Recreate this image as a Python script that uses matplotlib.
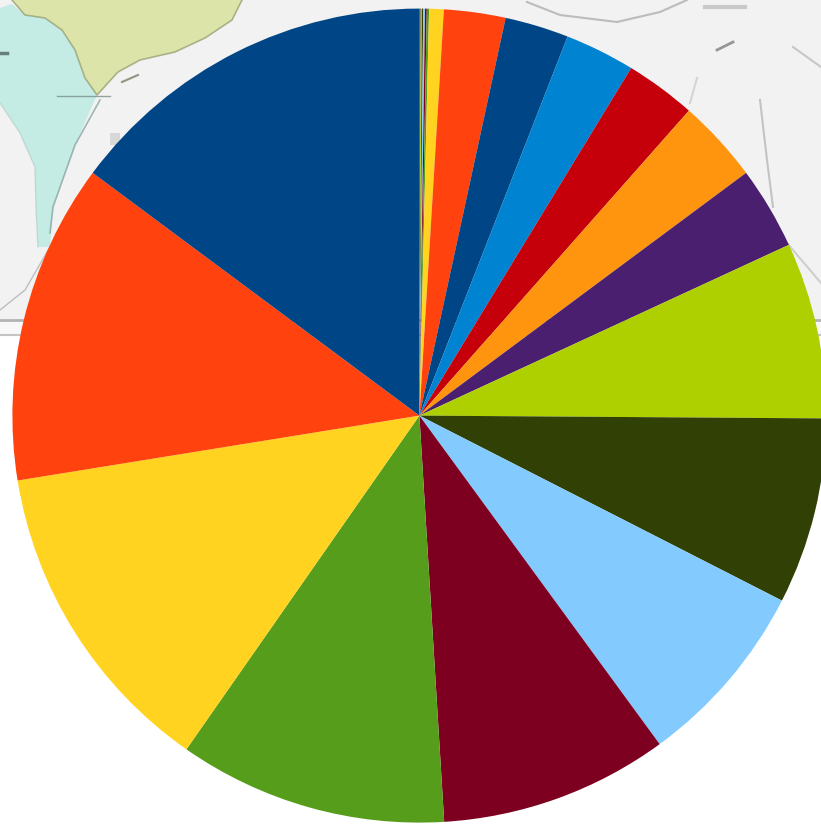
import matplotlib
matplotlib.use("Agg")
import matplotlib.pyplot as plt
from matplotlib.patches import Polygon, Rectangle

#
#Pie values in percent, clockwise from the top
#
values = [0.05, 0.05, 0.05, 0.07, 0.07, 0.09, 0.58, 2.44, 2.53, 2.78, 2.81,
          3.31, 3.28, 7.00, 7.40, 7.44, 9.08, 10.67, 12.75, 12.72, 14.83]
colors = ["#4b1f6f", "#aecf00", "#314004", "#83caff", "#7e0021", "#579d1c",
          "#ffd320", "#ff420e", "#004586", "#0084d1", "#c5000b", "#ff950e",
          "#4b1f6f", "#aecf00", "#314004", "#83caff", "#7e0021", "#579d1c",
          "#ffd320", "#ff420e", "#004586"]

W = 821
H = 824
CX = 419.4
CY = 415.6
R = 407

#
#The faded map behind the pie, outlines in image pixels (y downwards)
#
land = [(12, 0), (25, 15), (45, 18), (62, 30), (75, 50), (85, 78), (97, 95), (118, 72),
        (140, 60), (175, 52), (205, 38), (232, 20), (242, 0)]
water = [(0, 8), (12, 4), (25, 15), (45, 18), (62, 30), (75, 50), (85, 78), (97, 95),
         (75, 145), (53, 207), (50, 247), (38, 247), (36, 207), (35, 167), (20, 133), (0, 103)]
map_lines = [
    ([(12, 0), (25, 15), (45, 18), (62, 30), (75, 50), (85, 78), (97, 95), (118, 72),
      (140, 60), (175, 52), (205, 38), (232, 20), (242, 0)], "#8f9a6a", 1.2),
    ([(100, 100), (75, 145), (53, 207), (50, 233)], "#7d9c98", 1.2),
    ([(0, 103), (20, 133), (35, 167), (36, 207), (38, 247)], "#b5cfcb", 1.0),
    ([(57, 96), (110, 96)], "#6f8080", 1.0),
    ([(0, 310), (25, 290), (50, 247)], "#a8a8a8", 1.0),
    ([(122, 82), (138, 75)], "#6b6b55", 1.5),
    ([(0, 53), (7, 53)], "#40504e", 2.5),
    ([(527, 2), (560, 15), (617, 22), (660, 12), (687, 0)], "#a5a5a5", 1.5),
    ([(705, 7), (745, 7)], "#b8b8b8", 3.0),
    ([(717, 50), (733, 42)], "#707070", 2.0),
    ([(697, 78), (690, 103)], "#c8c8c8", 1.5),
    ([(760, 100), (767, 160), (773, 207)], "#b0b0b0", 1.5),
    ([(793, 47), (821, 67)], "#b5b5b5", 1.5),
    ([(787, 243), (821, 283)], "#c0c0c0", 1.5),
]


def flip(points):
    return [(x, H - y) for x, y in points]


fig = plt.figure(figsize=(W / 100, H / 100), dpi=100)
ax = fig.add_axes([0, 0, 1, 1])

ax.pie(values, colors=colors, startangle=90, counterclock=False, radius=R,
       center=(CX, H - CY), wedgeprops={"linewidth": 0, "zorder": 5}, frame=False)

#
#Background pieces
#
ax.add_patch(Rectangle((0, H - 320), W, 320, facecolor="#f2f2f2", edgecolor="none", zorder=1))
ax.add_patch(Rectangle((0, H - 335), W, 15, facecolor="#f8f8f8", edgecolor="none", zorder=1))
ax.add_patch(Polygon(flip(water), facecolor="#c4ece5", edgecolor="none", zorder=2))
ax.add_patch(Polygon(flip(land), facecolor="#dce4aa", edgecolor="none", zorder=2))
ax.add_patch(Rectangle((110, H - 145), 10, 12, facecolor="#d8d8d8", edgecolor="none", zorder=2))
for points, col, width in map_lines:
    xs, ys = zip(*flip(points))
    ax.plot(xs, ys, color=col, linewidth=width, alpha=0.7, zorder=3)
ax.plot([0, W], [H - 320, H - 320], color="#b4b4b4", linewidth=2, zorder=3)
ax.plot([0, W], [H - 335, H - 335], color="#c4c4c4", linewidth=1.5, zorder=3)

ax.set_xlim(0, W)
ax.set_ylim(0, H)
ax.set_aspect("auto")
ax.axis("off")

plt.savefig("out.png", dpi=100)
